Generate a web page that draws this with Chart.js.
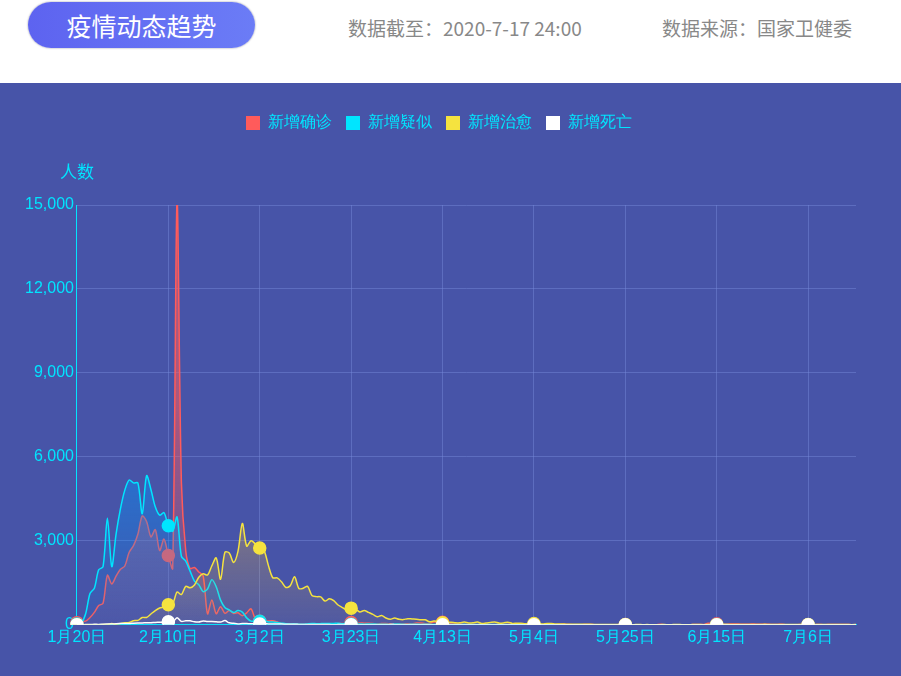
<!DOCTYPE html>
<html><head><meta charset="utf-8">
<script src="https://cdn.jsdelivr.net/npm/chart.js@4"></script>
<style>
body{margin:0;width:901px;height:676px;overflow:hidden;background:#fff;font-family:"Noto Sans CJK SC","Noto Sans",sans-serif;position:relative}
#pill{position:absolute;left:28px;top:2px;width:227px;height:46px;border-radius:23px;background:linear-gradient(90deg,#5d63f0,#6b7cf6);color:#fff;font-size:25px;line-height:46px;text-align:center;box-shadow:0 0 2px #889}
.hd{position:absolute;top:14px;font-size:19px;color:#888}
#panel{position:absolute;left:0;top:83px;width:901px;height:593px;background:#4754a8}
#ytitle{position:absolute;left:60px;top:158px;color:#00e5ff;font-size:17px}
</style></head><body>
<div id="pill">疫情动态趋势</div>
<div class="hd" style="left:348px">数据截至：2020-7-17 24:00</div>
<div class="hd" style="left:662px">数据来源：国家卫健委</div>
<div id="panel"><canvas id="c" width="901" height="593"></canvas></div>
<div id="ytitle">人数</div>
<script>
const seriesNames=["新增确诊","新增疑似","新增治愈","新增死亡"];
const yTicks=[0,3000,6000,9000,12000,15000];
const confirmed=[77,149,131,259,444,688,769,1771,1459,1737,1982,2102,
2590,2829,3235,3887,3694,3143,3399,2656,3062,2478,2015,15152,5090,2641,2009,2048,1886,1749,394,889,397,648,409,508,406,433,327,427,573,
202,125,119,139,143,99,44,40,19,24,15,8,11,20,16,21,13,34,39,41,46,39,78,47,67,55,54,45,31,45,48,
35,31,36,30,39,32,62,63,42,46,99,108,89,46,36,26,27,16,12,11,11,30,10,6,11,12,3,22,4,6,
12,2,1,3,2,1,4,2,1,14,17,7,3,6,5,8,7,6,5,2,4,3,2,3,11,7,4,2,2,4,2,
0,16,6,6,5,5,6,3,3,11,11,11,57,49,40,44,28,25,32,26,22,18,29,21,19,19,17,12,12,19,
3,5,3,8,8,6,3,7,7,5,8,8,7,7,7,6,6];
const suspected=[27,60,393,1118,1309,1965,2077,3806,2077,3248,4148,4812,
5173,5072,5072,3971,5328,4833,4214,3916,4008,3536,3342,3854,2450,2277,1918,1563,1432,1185,1277,1614,1361,882,620,530,439,508,452,248,132,
141,129,143,102,99,84,60,36,31,33,23,17,33,45,41,42,45,45,47,57,36,45,21,17,29,24,28,27,23,23,18,
15,26,26,17,13,19,21,15,19,17,12,14,29,12,13,12,13,16,9,10,8,8,9,7,9,11,9,8,4,7,
5,3,3,3,2,3,4,3,2,4,6,4,3,2,3,4,3,2,1,2,2,3,4,2,1,1,3,2,3,2,1,
2,1,3,2,4,3,2,2,3,4,2,3,5,8,10,11,8,6,5,4,3,4,6,3,4,5,3,2,3,4,
2,3,2,3,4,3,2,3,2,3,4,2,3,2,3,2,3];
const cured=[0,0,5,4,3,0,10,9,43,21,47,72,
85,147,157,262,261,387,510,600,632,716,744,1171,1081,1373,1323,1425,1701,1824,1779,2109,2393,1627,2589,2569,2225,2623,3622,2812,3006,
2890,2742,2652,2115,1681,1678,1535,1334,1394,1719,1295,1307,1374,1049,1007,998,847,930,862,707,614,527,595,561,459,509,444,375,289,334,244,
198,240,197,185,220,208,197,180,178,109,132,121,74,83,92,69,69,98,67,72,101,50,63,83,100,60,68,94,51,53,
58,38,45,42,39,28,46,43,28,29,25,19,23,20,18,16,17,14,10,11,14,11,9,8,8,5,6,8,5,7,4,
5,6,8,4,7,9,5,4,6,10,8,5,9,7,6,10,8,12,15,12,11,14,13,11,9,16,12,10,9,11,
10,12,8,9,11,13,6,8,9,7,10,8,7,12,9,6,8];
const deaths=[6,3,8,8,16,15,24,26,26,38,43,46,
45,57,64,65,73,73,86,89,97,108,97,254,121,143,142,105,98,136,114,118,109,97,150,71,52,29,44,47,35,
42,31,38,31,30,28,27,22,17,22,11,7,13,10,14,13,11,8,3,7,9,7,4,6,5,3,5,3,1,4,1,
7,6,4,3,1,2,2,0,1,1,0,0,0,1,0,0,0,0,0,0,0,0,0,0,0,0,0,0,0,0,
0,0,0,0,0,0,0,0,0,0,0,0,0,0,0,0,0,0,0,0,0,0,0,0,0,0,0,0,0,0,0,
0,0,0,0,0,0,0,0,0,0,0,0,0,0,0,0,0,0,0,0,0,0,0,0,0,0,0,0,0,0,
0,0,0,0,0,0,0,0,0,0,0,0,0,0,0,0,0];
const labels=[];
{const d=new Date(2020,0,20);for(let i=0;i<confirmed.length;i++){labels.push((d.getMonth()+1)+"月"+d.getDate()+"日");d.setDate(d.getDate()+1);}}
const colors=["#ff5b5b","#00e5ff","#f5e33f","#ffffff"];
const fills=[["rgba(255,91,91,0.55)","rgba(255,91,91,0.05)"],["rgba(0,150,255,0.6)","rgba(0,150,255,0.05)"],["rgba(245,190,60,0.6)","rgba(245,190,60,0.05)"],["rgba(255,255,255,0.1)","rgba(255,255,255,0)"]];
const all=[confirmed,suspected,cured,deaths];
const cyan="#00e5ff";
const legendHeight={id:'lh',beforeInit(chart){const f=chart.legend.fit;chart.legend.fit=function(){f.call(this);this.height=104;};}};
new Chart(document.getElementById('c'),{type:'line',plugins:[legendHeight],
data:{labels,datasets:all.map((d,k)=>({label:seriesNames[k],data:d,order:3-k,borderColor:colors[k],borderWidth:1.5,tension:0.3,
 pointBackgroundColor:colors[k],pointBorderColor:colors[k],
 pointRadius:c=>c.dataIndex%21===0?6:0,pointHoverRadius:6,fill:'origin',
 backgroundColor:c=>{const a=c.chart.chartArea;if(!a)return fills[k][0];const g=c.chart.ctx.createLinearGradient(0,a.top+200,0,a.bottom);g.addColorStop(0,fills[k][0]);g.addColorStop(1,fills[k][1]);return g;}}))},
options:{responsive:false,animation:false,
 layout:{padding:{left:22,right:45,top:18,bottom:26}},
 plugins:{legend:{position:'top',labels:{color:cyan,boxWidth:14,boxHeight:14,font:{size:16},padding:14,
   generateLabels:ch=>seriesNames.map((n,k)=>({text:n,fillStyle:colors[k],strokeStyle:colors[k],lineWidth:0,fontColor:cyan,datasetIndex:k,hidden:false}))}},tooltip:{enabled:false}},
 scales:{
  x:{ticks:{color:cyan,font:{size:16},autoSkip:false,maxRotation:0,callback:(v,i)=>i%21===0?labels[i]:''},
     grid:{color:c=>c.index%21===0?'rgba(120,140,220,0.45)':'rgba(0,0,0,0)',drawTicks:false},border:{color:cyan}},
  y:{min:0,max:15000,afterBuildTicks:a=>{a.ticks=yTicks.map(v=>({value:v}));},
     ticks:{color:cyan,font:{size:16},callback:v=>v.toLocaleString('en-US')},
     grid:{color:'rgba(120,140,220,0.45)',drawTicks:false},border:{color:cyan}}
 }}});
</script></body></html>
